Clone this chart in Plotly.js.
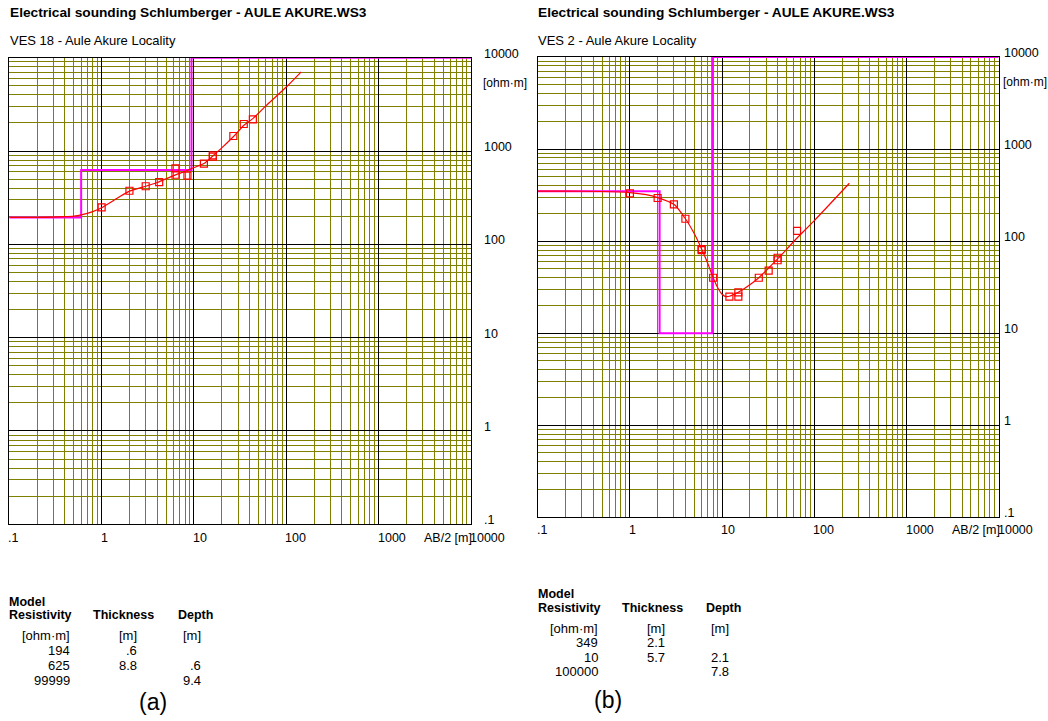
<!DOCTYPE html>
<html>
<head>
<meta charset="utf-8">
<script src="https://cdn.plot.ly/plotly-3.0.1.min.js"></script>
<style>html,body{margin:0;padding:0;background:#fff;}#chart{width:1048px;height:721px;}</style>
</head>
<body>
<div id="chart"></div>
<script>
// ---------- data ----------
const xTickVals = [0.1, 1, 10, 100, 1000, 10000];
const xTickText = ['.1', '1', '10', '100', '1000', '10000'];
const yTickVals = [0.1, 1, 10, 100, 1000, 10000];
const yTickText = ['.1', '1', '10', '100', '1000', '10000'];

// VES 18 (panel a)
const ves18AB  = [1, 2, 3, 4.2, 6.3, 6.3, 8.5, 12.8, 16, 16, 26.7, 34.6, 43.4];
const ves18Rho = [249, 375, 419, 465, 653, 557, 544, 731, 899, 869, 1448, 1947, 2188];
const ves18CurveAB  = [0.1, 0.2, 0.3, 0.4, 0.5, 0.6, 0.8, 1, 1.5, 2, 3, 4, 6, 8, 10, 13, 16, 20, 27, 35, 44, 60, 100, 145];
const ves18CurveRho = [194, 194, 196, 198, 201, 207, 224, 247, 315, 372, 419, 460, 545, 605, 665, 740, 885, 1080, 1440, 1900, 2250, 3050, 4850, 7050];
const modelARes   = [194, 625, 99999];
const modelAThick = [0.6, 8.8];
const modelADepth = [0.6, 9.4];

// VES 2 (panel b)
const ves2AB  = [1, 2, 3, 4, 6, 6, 8, 12, 15, 15, 25, 32, 40, 40, 65];
const ves2Rho = [330, 294, 251, 175, 82, 80, 40, 24.9, 24.9, 27.8, 40, 47.7, 66, 62, 129];
const ves2CurveAB  = [0.1, 0.2, 0.5, 1, 1.5, 2, 3, 4, 5, 6, 7, 8, 9, 10, 11, 12, 15, 20, 25, 32, 40, 65, 100, 240];
const ves2CurveRho = [349, 349, 346, 337, 320, 297, 251, 175, 120, 82, 57, 40, 31, 26.5, 25, 25.2, 27.8, 33.5, 40, 51, 64, 108, 167, 425];
const modelBRes   = [349, 10, 100000];
const modelBThick = [2.1, 5.7];
const modelBDepth = [2.1, 7.8];

const mainTitle = 'Electrical sounding Schlumberger - AULE AKURE.WS3';
const subTitleA = 'VES 18 - Aule Akure Locality';
const subTitleB = 'VES 2 - Aule Akure Locality';

// ---------- helpers ----------
const W = 1048, H = 721;
const FONT = 'Arial, "Liberation Sans", sans-serif';
const OLIVE = '#808000';
const px = x => x / W;
const py = y => 1 - y / H;
const fmt = v => String(v).replace(/^0\./, '.');
const X_MIN = 0.1, X_MAX = 10000, Y_MAX = 10000;

function modelSteps(res, depth) {
  const xs = [X_MIN], ys = [Math.min(res[0], Y_MAX)];
  for (let i = 0; i < depth.length; i++) {
    xs.push(depth[i], depth[i]);
    ys.push(Math.min(res[i], Y_MAX), Math.min(res[i + 1], Y_MAX));
  }
  xs.push(X_MAX); ys.push(Math.min(res[res.length - 1], Y_MAX));
  return {xs, ys};
}

const panels = [
  {xa: 'x', ya: 'y', box: {x0: 9.3, x1: 471, y0: 57.7, y1: 524.3}, ab: ves18AB, rho: ves18Rho,
   cab: ves18CurveAB, crho: ves18CurveRho, res: modelARes, thick: modelAThick, depth: modelADepth,
   sub: subTitleA, tag: '(a)', tagX: 153, tagY: 702, ylabX: 484, xlabY: 538,
   tbl: {x: 9, model: 602, head: 615, units: 635, rows: [650, 665.5, 680.5], c1: 70, c2: 137, c3: 201, thX: 93, dpX: 178}},
  {xa: 'x2', ya: 'y2', box: {x0: 537.7, x1: 998.7, y0: 57, y1: 517.3}, ab: ves2AB, rho: ves2Rho,
   cab: ves2CurveAB, crho: ves2CurveRho, res: modelBRes, thick: modelBThick, depth: modelBDepth,
   sub: subTitleB, tag: '(b)', tagX: 607.5, tagY: 700, ylabX: 1004, xlabY: 530,
   tbl: {x: 538, model: 594, head: 608, units: 628, rows: [642, 657, 671], c1: 598, c2: 665, c3: 729, thX: 622, dpX: 706}}
];

const traces = [];
const annotations = [];
const layout = {
  width: W, height: H,
  margin: {l: 0, r: 0, t: 0, b: 0},
  paper_bgcolor: '#ffffff', plot_bgcolor: '#ffffff',
  showlegend: false,
  font: {family: FONT, size: 12, color: '#000000'},
  annotations: annotations
};

function axis(domain, anchor) {
  return {
    type: 'log', range: [Math.log10(X_MIN), Math.log10(X_MAX)], domain: domain, anchor: anchor,
    tickmode: 'linear', tick0: 0, dtick: 1, showticklabels: false, ticks: '',
    showgrid: true, gridcolor: '#000000', gridwidth: 1,
    minor: {dtick: 'D1', showgrid: true, gridcolor: OLIVE, gridwidth: 1, ticks: ''},
    showline: true, mirror: true, linecolor: '#000000', linewidth: 1,
    zeroline: false, fixedrange: true
  };
}

const txt = (o) => Object.assign({showarrow: false, font: {family: FONT, size: 12, color: '#000'}}, o);

panels.forEach((p, i) => {
  const n = i === 0 ? '' : '2';
  layout['xaxis' + n] = axis([px(p.box.x0), px(p.box.x1)], 'y' + n);
  layout['yaxis' + n] = axis([py(p.box.y1), py(p.box.y0)], 'x' + n);

  const m = modelSteps(p.res, p.depth);
  traces.push({type: 'scatter', mode: 'lines', x: m.xs, y: m.ys, xaxis: p.xa, yaxis: p.ya,
               line: {color: '#ff00ff', width: 2}, hoverinfo: 'skip'});
  traces.push({type: 'scatter', mode: 'lines', x: p.cab, y: p.crho, xaxis: p.xa, yaxis: p.ya,
               line: {color: '#ff0000', width: 1.2, shape: 'spline', smoothing: 0.6}});
  traces.push({type: 'scatter', mode: 'markers', x: p.ab, y: p.rho, xaxis: p.xa, yaxis: p.ya,
               marker: {symbol: 'square-open', size: 7, color: '#ff0000', line: {width: 1.2, color: '#ff0000'}}});

  // titles
  annotations.push(txt({xref: 'paper', yref: 'paper', x: px(p.box.x0 - 1.5), y: py(13), xanchor: 'left', yanchor: 'middle',
    text: '<b>' + mainTitle + '</b>', font: {family: FONT, size: 13.7, color: '#000'}}));
  annotations.push(txt({xref: 'paper', yref: 'paper', x: px(p.box.x0 - 1.5), y: py(41), xanchor: 'left', yanchor: 'middle', text: p.sub,
    font: {family: FONT, size: 13, color: '#000'}}));

  // x tick labels (left-aligned at gridlines)
  xTickVals.forEach((v, k) => annotations.push(txt({xref: p.xa, yref: 'paper', x: Math.log10(v), y: py(p.xlabY),
    xanchor: 'left', yanchor: 'middle', xshift: -3, text: xTickText[k], font: {family: FONT, size: 12.5, color: '#000'}})));
  annotations.push(txt({xref: 'paper', yref: 'paper', x: px(p.box.x1 + 3), y: py(p.xlabY), xanchor: 'right', yanchor: 'middle',
    text: 'AB/2 [m]', font: {family: FONT, size: 12.5, color: '#000'}}));

  // y tick labels on right
  yTickVals.forEach((v, k) => annotations.push(txt({xref: 'paper', yref: p.ya, x: px(p.ylabX - 2), y: Math.log10(v),
    xanchor: 'left', yanchor: 'middle', yshift: 4, text: yTickText[k], font: {family: FONT, size: 12.5, color: '#000'}})));
  annotations.push(txt({xref: 'paper', yref: 'paper', x: px(p.ylabX - 3), y: py(p.box.y0 + 25), xanchor: 'left', yanchor: 'middle',
    text: '[ohm·m]'}));

  // model table
  const t = p.tbl, F = 13;
  const hb = s => '<b>' + s + '</b>';
  const HF = {family: FONT, size: 12.5, color: '#000'};
  annotations.push(txt({xref: 'paper', yref: 'paper', x: px(t.x - 2), y: py(t.model), xanchor: 'left', yanchor: 'middle', text: hb('Model'), font: HF}));
  annotations.push(txt({xref: 'paper', yref: 'paper', x: px(t.x - 2), y: py(t.head), xanchor: 'left', yanchor: 'middle', text: hb('Resistivity'), font: HF}));
  annotations.push(txt({xref: 'paper', yref: 'paper', x: px(t.thX - 2), y: py(t.head), xanchor: 'left', yanchor: 'middle', text: hb('Thickness'), font: HF}));
  annotations.push(txt({xref: 'paper', yref: 'paper', x: px(t.dpX - 2), y: py(t.head), xanchor: 'left', yanchor: 'middle', text: hb('Depth'), font: HF}));
  const units = ['[ohm·m]', '[m]', '[m]'];
  const cols = [t.c1, t.c2, t.c3];
  const VF = {family: FONT, size: F, color: '#000'};
  units.forEach((u, k) => annotations.push(txt({xref: 'paper', yref: 'paper', x: px(cols[k] + 2), y: py(t.units), xanchor: 'right', yanchor: 'middle', text: u, font: VF})));
  p.res.forEach((r, k) => {
    annotations.push(txt({xref: 'paper', yref: 'paper', x: px(t.c1 + 2), y: py(t.rows[k]), xanchor: 'right', yanchor: 'middle', text: fmt(r), font: VF}));
    if (k < p.thick.length) annotations.push(txt({xref: 'paper', yref: 'paper', x: px(t.c2 + 2), y: py(t.rows[k]), xanchor: 'right', yanchor: 'middle', text: fmt(p.thick[k]), font: VF}));
    if (k > 0) annotations.push(txt({xref: 'paper', yref: 'paper', x: px(t.c3 + 2), y: py(t.rows[k]), xanchor: 'right', yanchor: 'middle', text: fmt(p.depth[k - 1]), font: VF}));
  });
  annotations.push(txt({xref: 'paper', yref: 'paper', x: px(p.tagX), y: py(p.tagY), xanchor: 'center', yanchor: 'middle', text: p.tag, font: {family: FONT, size: 23, color: '#000'}}));
});

Plotly.newPlot('chart', traces, layout, {staticPlot: true, displayModeBar: false});
</script>
</body>
</html>
